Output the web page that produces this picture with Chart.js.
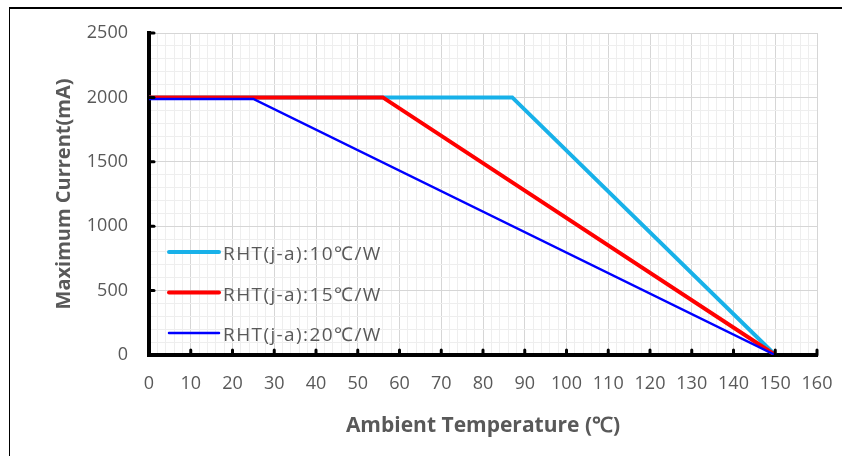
<!DOCTYPE html>
<html>
<head>
<meta charset="utf-8">
<script src="https://cdn.jsdelivr.net/npm/chart.js@4"></script>
<style>
  html, body { margin: 0; padding: 0; background: #fff; }
  #wrap { position: relative; width: 842px; height: 456px; }
</style>
</head>
<body>
<div id="wrap"><canvas id="derating"></canvas></div>
<script>
const seriesNames = ['RHT(j-a):10℃/W', 'RHT(j-a):15℃/W', 'RHT(j-a):20℃/W'];
const seriesColors = ['#18b1e9', '#ff0000', '#0000ff'];
const seriesWidths = [4, 4, 2.5];

const temps10 = [0, 87, 150];
const current10 = [2000, 2000, 0];
const temps15 = [0, 56, 150];
const current15 = [2000, 2000, 0];
const temps20 = [0, 25, 150];
const current20 = [1988, 1988, 0];

const xTicks = [0, 10, 20, 30, 40, 50, 60, 70, 80, 90, 100, 110, 120, 130, 140, 150, 160];
const yTicks = [0, 500, 1000, 1500, 2000, 2500];

const textColor = '#595959';
const toPoints = (xs, ys) => xs.map((x, i) => ({ x: x, y: ys[i] }));

// frame, inner tick marks and legend
const extras = {
  id: 'extras',
  beforeDraw(chart) {
    const c = chart.ctx;
    c.save();
    c.strokeStyle = '#000';
    c.lineWidth = 2;
    c.beginPath();
    c.moveTo(9, 8);
    c.lineTo(842, 8);
    c.stroke();
    c.lineWidth = 1;
    c.beginPath();
    c.moveTo(9.5, 8);
    c.lineTo(9.5, 456);
    c.stroke();
    c.restore();
  },
  afterDraw(chart) {
    const c = chart.ctx;
    const xs = chart.scales.x, ys = chart.scales.y;
    const area = chart.chartArea;
    c.save();
    c.strokeStyle = '#000';
    c.lineWidth = 3;
    c.lineCap = 'round';
    xTicks.slice(1).forEach(v => {
      const px = xs.getPixelForValue(v);
      c.beginPath();
      c.moveTo(px, area.bottom);
      c.lineTo(px, area.bottom - 5);
      c.stroke();
    });
    yTicks.slice(1).forEach(v => {
      const py = ys.getPixelForValue(v);
      c.beginPath();
      c.moveTo(area.left, py);
      c.lineTo(area.left + 5, py);
      c.stroke();
    });
    c.restore();

    // legend
    c.save();
    c.font = '19px "Open Sans"';
    c.letterSpacing = '1.4px';
    c.textBaseline = 'middle';
    c.fillStyle = textColor;
    seriesNames.forEach((name, i) => {
      const y = area.top + 219 + i * 40.5;
      c.strokeStyle = seriesColors[i];
      c.lineWidth = seriesWidths[i];
      c.lineCap = 'round';
      c.beginPath();
      c.moveTo(area.left + 20, y);
      c.lineTo(area.left + 70, y);
      c.stroke();
      c.fillText(name, area.left + 74, y + 3);
    });
    c.restore();
  }
};

new Chart(document.getElementById('derating'), {
  type: 'line',
  data: {
    datasets: [{
      label: seriesNames[0],
      data: toPoints(temps10, current10),
      borderColor: seriesColors[0],
      borderWidth: seriesWidths[0],
      order: 3
    }, {
      label: seriesNames[1],
      data: toPoints(temps15, current15),
      borderColor: seriesColors[1],
      borderWidth: seriesWidths[1],
      order: 2
    }, {
      label: seriesNames[2],
      data: toPoints(temps20, current20),
      borderColor: seriesColors[2],
      borderWidth: seriesWidths[2],
      order: 1
    }]
  },
  options: {
    responsive: true,
    maintainAspectRatio: false,
    animation: false,
    elements: { point: { radius: 0 }, line: { tension: 0, fill: false } },
    layout: { padding: { left: 52, top: 33, right: 25, bottom: 17 } },
    plugins: { legend: { display: false }, tooltip: { enabled: false } },
    scales: {
      x: {
        type: 'linear',
        min: 0,
        max: 160,
        afterFit: (scale) => {
          scale.height = 84;
          scale.paddingLeft = 0;
          scale.paddingRight = 0;
        },
        ticks: {
          stepSize: 2,
          autoSkip: false,
          maxRotation: 0,
          padding: 18,
          color: textColor,
          font: { family: 'Open Sans', size: 18 },
          callback: (value) => (value % 10 === 0 ? value : '')
        },
        grid: {
          drawTicks: false,
          color: (ctx) => (ctx.tick && ctx.tick.value % 10 === 0 ? '#d6d6d6' : '#eeeeee')
        },
        border: { display: true, color: '#000', width: 4 },
        title: {
          display: true,
          text: 'Ambient Temperature (℃)',
          color: textColor,
          font: { family: 'Open Sans', size: 21, weight: 'bold' },
          padding: { top: 0, bottom: 0 }
        }
      },
      y: {
        type: 'linear',
        min: 0,
        max: 2500,
        afterFit: (scale) => { scale.width = 97; },
        ticks: {
          stepSize: 100,
          autoSkip: false,
          padding: 21,
          color: textColor,
          font: { family: 'Open Sans', size: 18 },
          callback: (value) => (value % 500 === 0 ? value : '')
        },
        grid: {
          drawTicks: false,
          color: (ctx) => (ctx.tick && ctx.tick.value % 500 === 0 ? '#d6d6d6' : '#eeeeee')
        },
        border: { display: true, color: '#000', width: 4 },
        title: {
          display: true,
          text: 'Maximum Current(mA)',
          color: textColor,
          font: { family: 'Open Sans', size: 20, weight: 'bold' },
          padding: { top: 0, bottom: 0 }
        }
      }
    }
  },
  plugins: [extras]
});
</script>
</body>
</html>
